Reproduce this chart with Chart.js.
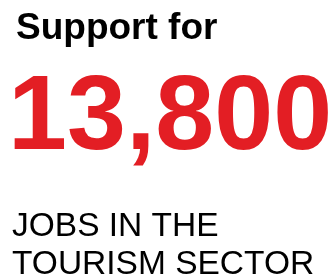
<!DOCTYPE html>
<html>
<head>
<meta charset="utf-8">
<script src="https://cdn.jsdelivr.net/npm/chart.js@4.4.1/dist/chart.umd.min.js"></script>
<style>
  html, body { margin: 0; padding: 0; background: #ffffff; }
  #wrap { position: relative; width: 335px; height: 276px; }
</style>
</head>
<body>
<div id="wrap"><canvas id="statChart"></canvas></div>
<script>
// Data
const headline = ['Support for'];
const values = [13800];
const labelLines = ['JOBS IN THE', 'TOURISM SECTOR'];

const FONT = '"Liberation Sans", Arial, Helvetica, sans-serif';

// Draws the big figure and its captions from the chart data
const statText = {
    id: 'statText',
    afterDraw(chart, args, opts) {
        const ctx = chart.ctx;
        const value = chart.data.datasets[0].data[0];
        ctx.save();
        ctx.textAlign = 'left';
        ctx.textBaseline = 'alphabetic';

        // heading
        ctx.fillStyle = '#000000';
        ctx.font = 'bold 37px ' + FONT;
        ctx.fillText(chart.data.labels[0], 16, 39);

        // the number
        ctx.fillStyle = '#e31e24';
        ctx.font = 'bold 106px ' + FONT;
        ctx.fillText(value.toLocaleString('en-US'), 8, 149);

        // caption
        ctx.fillStyle = '#000000';
        ctx.font = '33.5px ' + FONT;
        opts.lines.forEach((line, i) => {
            ctx.fillText(line, 12, 236 + i * 38);
        });
        ctx.restore();
    }
};

document.addEventListener('DOMContentLoaded', function() {
    const ctx = document.getElementById('statChart').getContext('2d');
    new Chart(ctx, {
        type: 'bar',
        data: {
            labels: headline,
            datasets: [{
                label: 'Jobs',
                data: values,
                backgroundColor: 'rgba(0,0,0,0)',
                borderWidth: 0
            }]
        },
        options: {
            responsive: true,
            maintainAspectRatio: false,
            animation: false,
            events: [],
            layout: { padding: 0 },
            scales: {
                x: { display: false },
                y: { display: false, beginAtZero: true }
            },
            plugins: {
                legend: { display: false },
                tooltip: { enabled: false },
                statText: { lines: labelLines }
            }
        },
        plugins: [statText]
    });
});
</script>
</body>
</html>
